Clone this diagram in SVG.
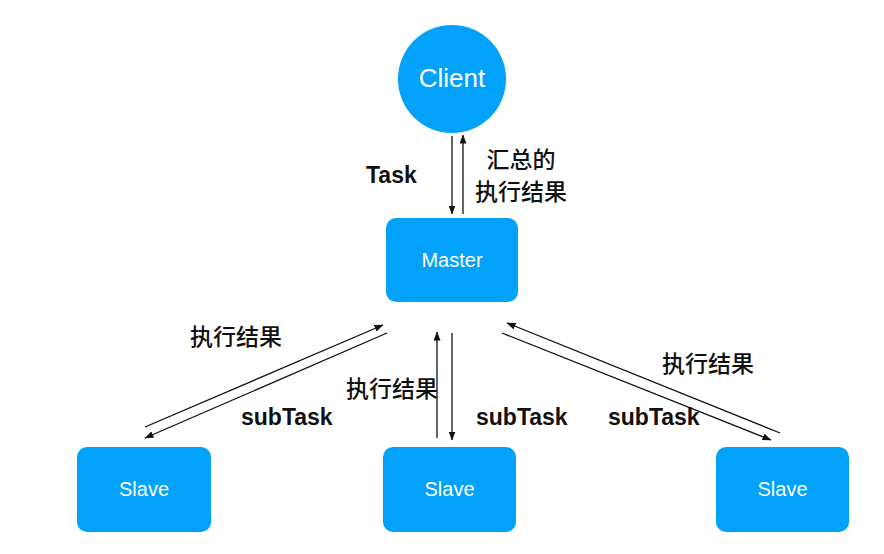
<svg xmlns="http://www.w3.org/2000/svg" width="884" height="554" viewBox="0 0 884 554">
<defs>
<marker id="ah" markerWidth="9" markerHeight="7" refX="8.5" refY="3.5" orient="auto" markerUnits="userSpaceOnUse">
<path d="M0,0 L9,3.5 L0,7 z" fill="#111"/>
</marker>
<style>
.node{fill:#02A2FA}
.nt{fill:#fff;font-family:"Liberation Sans",Arial,sans-serif;text-anchor:middle}
.edge{stroke:#111;stroke-width:1.3;fill:none;marker-end:url(#ah)}
.lbl{fill:#111;font-family:"Liberation Sans","Noto Sans CJK SC",sans-serif;font-weight:bold;font-size:23px}
.cjk{fill:#111;font-family:"Noto Sans CJK SC",sans-serif;font-weight:500;font-size:23px}
</style>
</defs>
<rect width="884" height="554" fill="#fff"/>
<g id="client"><circle class="node" cx="452" cy="79" r="54"/><text class="nt" x="452" y="87" font-size="26">Client</text></g>
<g id="master"><rect class="node" x="386" y="218" width="132" height="84" rx="10"/><text class="nt" x="452" y="267" font-size="20">Master</text></g>
<g id="slave1"><rect class="node" x="77" y="447" width="134" height="85" rx="10"/><text class="nt" x="144" y="496" font-size="20">Slave</text></g>
<g id="slave2"><rect class="node" x="383" y="447" width="133" height="85" rx="10"/><text class="nt" x="449.5" y="496" font-size="20">Slave</text></g>
<g id="slave3"><rect class="node" x="716" y="447" width="133" height="85" rx="10"/><text class="nt" x="782.5" y="496" font-size="20">Slave</text></g>
<g id="connectors">
<line class="edge" x1="452" y1="136" x2="452" y2="214"/>
<line class="edge" x1="463" y1="214" x2="463" y2="135"/>
<line class="edge" x1="145" y1="427" x2="383" y2="325"/>
<line class="edge" x1="387" y1="333" x2="145" y2="438"/>
<line class="edge" x1="437" y1="438" x2="437" y2="332"/>
<line class="edge" x1="452" y1="333" x2="452" y2="440"/>
<line class="edge" x1="780" y1="433" x2="507" y2="323"/>
<line class="edge" x1="502" y1="333" x2="771" y2="440"/>
</g>
<g id="labels">
<text class="lbl" x="366" y="183">Task</text>
<text class="cjk" x="521" y="168" text-anchor="middle">汇总的</text>
<text class="cjk" x="521" y="200" text-anchor="middle">执行结果</text>
<text class="cjk" x="190" y="345">执行结果</text>
<text class="lbl" x="241" y="425">subTask</text>
<text class="cjk" x="346" y="397">执行结果</text>
<text class="lbl" x="476" y="425">subTask</text>
<text class="lbl" x="608" y="425">subTask</text>
<text class="cjk" x="662" y="372">执行结果</text>
</g>
</svg>
